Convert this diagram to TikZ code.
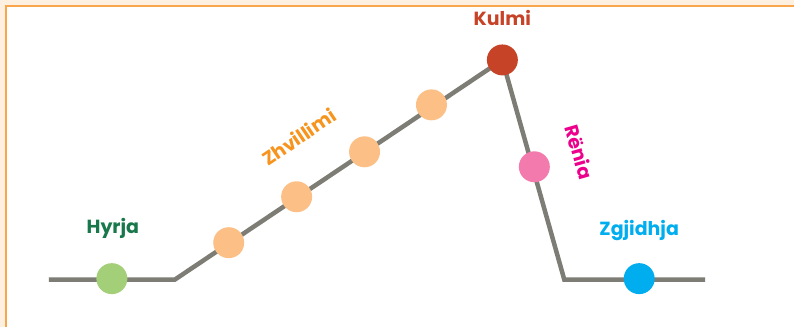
\documentclass[tikz,border=0pt]{standalone}
\usepackage{fontspec}
\setmainfont{Poppins}
\usetikzlibrary{positioning}
\definecolor{frameorange}{HTML}{F9A54C}
\definecolor{framebeige}{HTML}{FDF0E1}
\definecolor{trackgray}{HTML}{7D7D76}
\definecolor{hyrjagreen}{HTML}{A2CF78}
\definecolor{hyrjatext}{HTML}{18784C}
\definecolor{zhvorange}{HTML}{FCBF85}
\definecolor{zhvtext}{HTML}{F7941D}
\definecolor{kulmired}{HTML}{C64327}
\definecolor{reniapink}{HTML}{F27AAD}
\definecolor{reniatext}{HTML}{EC008C}
\definecolor{zgjblue}{HTML}{00AEEF}
\tikzset{
  stage/.style={circle,minimum size=31pt,inner sep=0pt},
  track/.style={trackgray,line width=4.5pt},
  stagename/.style={font=\fontsize{19}{19}\selectfont\bfseries}
}

\begin{document}
\begin{tikzpicture}[x=1pt,y=-1pt]
		% frame
		\fill [framebeige] (0,0) rectangle (795,327);
		\fill [white] (6,6) rectangle (795,327);
		\draw [frameorange,line width=2pt] (6,327)--(6,6)--(795,6);
		\useasboundingbox (0,0) rectangle (795,327);
		% track
		\coordinate (start) at (49,280);
		\coordinate (rise) at (175,280);
		\coordinate (fall) at (565,280);
		\coordinate (end) at (706,280);
		\coordinate (top) at (503,60);
		\draw [track] (start)--(rise)--(top)--(fall)--(end);
		% stages
		\node [stage,fill=hyrjagreen] (hyrja) at (112,279) {};
		\node [stage,fill=zhvorange] (zhv1) at (229,243) {};
		\node [stage,fill=zhvorange] (zhv2) at (297,197) {};
		\node [stage,fill=zhvorange] (zhv3) at (365,152) {};
		\node [stage,fill=zhvorange] (zhv4) at (432,105) {};
		\node [stage,fill=kulmired] (kulmi) at (top) {};
		\node [stage,fill=reniapink] (renia) at (535,167) {};
		\node [stage,fill=zgjblue] (zgjidhja) at (640,279) {};
		% labels
		\node [stagename,text=hyrjatext] (hyrjalabel) at (113,229) {Hyrja};
		\node [stagename,text=zhvtext,rotate=34] (zhvlabel) at (299,137) {Zhvillimi};
		\node [stagename,text=kulmired] (kulmilabel) at (503,18) {Kulmi};
		\node [stagename,text=reniatext,rotate=-74] (renialabel) at (580,152) {Rënia};
		\node [stagename,text=zgjblue] (zgjlabel) at (640,231) {Zgjidhja};
    \end{tikzpicture}
\end{document}
